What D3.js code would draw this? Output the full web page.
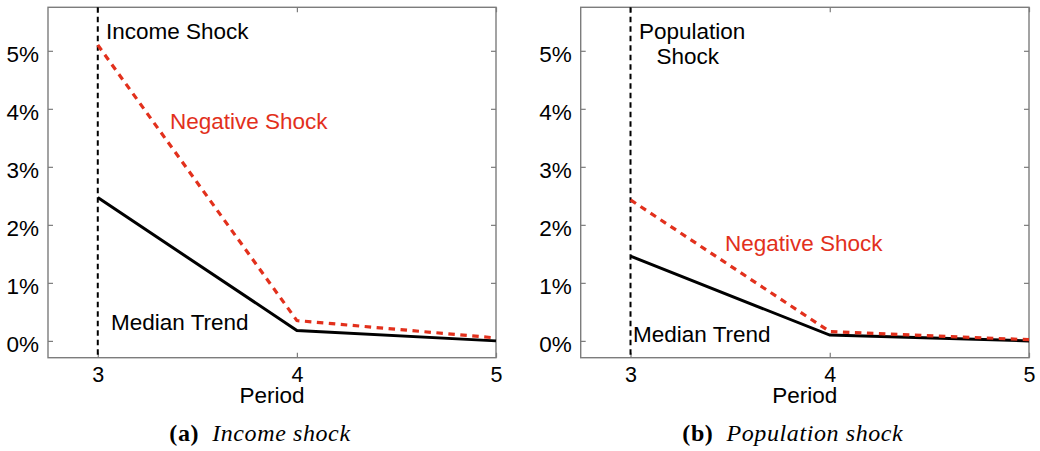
<!DOCTYPE html>
<html>
<head>
<meta charset="utf-8">
<script src="https://cdn.jsdelivr.net/npm/d3@7"></script>
<style>
  html, body { margin: 0; padding: 0; background: #fff; }
  svg { display: block; }
  text { font-family: "Liberation Sans", Arial, Helvetica, sans-serif; }
</style>
</head>
<body>
<svg id="chart" width="1040" height="451"></svg>
<script>
// Periods and growth-rate paths (percent) after each shock
const periods = [3, 4, 5];
const incomeNegative = [5.10, 0.35, 0.05];
const incomeMedian = [2.47, 0.18, 0.00];
const populationNegative = [2.43, 0.16, 0.02];
const populationMedian = [1.46, 0.10, 0.00];
const xTicks = [3, 4, 5];
const yTicks = [0, 1, 2, 3, 4, 5];
const shockPeriod = 3;

const RED = "#e2301c";
const FRAME = "#7c7c7c";
const FONT = 22.5;
const TICK_FONT = 21.5;

const svg = d3.select("#chart");

const panels = [
  {
    left: 48, right: 496,
    negative: incomeNegative, median: incomeMedian,
    shockLines: ["Income Shock"], shockPos: [[106, 38.5]],
    negPos: [170, 128.5], medPos: [111, 329.5],
    capTag: "(a)", capText: "Income shock"
  },
  {
    left: 580.7, right: 1029,
    negative: populationNegative, median: populationMedian,
    shockLines: ["Population", "Shock"], shockPos: [[639, 38.5], [656.5, 63.5]],
    negPos: [725, 251], medPos: [633, 342],
    capTag: "(b)", capText: "Population shock"
  }
];

const plotTop = 7.3, plotBottom = 357.7, tickLen = 5;

panels.forEach(p => {
  const x = d3.scaleLinear().domain([2.75, 5]).range([p.left, p.right]);
  const y = d3.scaleLinear().domain([-0.29, 5.75]).range([plotBottom, plotTop]);
  const g = svg.append("g");

  // frame
  g.append("rect")
    .attr("x", p.left).attr("y", plotTop)
    .attr("width", p.right - p.left).attr("height", plotBottom - plotTop)
    .attr("fill", "none").attr("stroke", FRAME).attr("stroke-width", 1.4);

  // inward ticks on all four sides
  const bottomAxis = d3.axisBottom(x).tickValues(xTicks).tickSizeInner(-tickLen).tickSizeOuter(0).tickFormat(d3.format("d")).tickPadding(9.5);
  const topAxis = d3.axisTop(x).tickValues(xTicks).tickSizeInner(-tickLen).tickSizeOuter(0).tickFormat("");
  const leftAxis = d3.axisLeft(y).tickValues(yTicks).tickSizeInner(-tickLen).tickSizeOuter(0).tickFormat(d => d + "%").tickPadding(9);
  const rightAxis = d3.axisRight(y).tickValues(yTicks).tickSizeInner(-tickLen).tickSizeOuter(0).tickFormat("");

  const ax = [
    g.append("g").attr("transform", `translate(0,${plotBottom})`).call(bottomAxis),
    g.append("g").attr("transform", `translate(0,${plotTop})`).call(topAxis),
    g.append("g").attr("transform", `translate(${p.left},0)`).call(leftAxis),
    g.append("g").attr("transform", `translate(${p.right},0)`).call(rightAxis)
  ];
  ax.forEach(a => {
    a.select(".domain").remove();
    a.selectAll(".tick line").attr("stroke", FRAME).attr("stroke-width", 1.2);
    a.selectAll(".tick text").attr("fill", "#000").attr("font-size", TICK_FONT)
      .attr("font-family", "Liberation Sans, Arial, sans-serif");
  });
  ax[2].selectAll(".tick text").attr("font-size", FONT).attr("dy", "0.47em");
  ax[0].selectAll(".tick text").attr("dy", "0.71em");

  // shock marker
  g.append("line")
    .attr("x1", x(shockPeriod)).attr("x2", x(shockPeriod))
    .attr("y1", plotTop).attr("y2", plotBottom)
    .attr("stroke", "#000").attr("stroke-width", 2).attr("stroke-dasharray", "5.5,4");

  const line = d3.line().x((d, i) => x(periods[i])).y(d => y(d));

  g.append("path").datum(p.median)
    .attr("d", line).attr("fill", "none")
    .attr("stroke", "#000").attr("stroke-width", 3);

  g.append("path").datum(p.negative)
    .attr("d", line).attr("fill", "none")
    .attr("stroke", RED).attr("stroke-width", 3.2).attr("stroke-dasharray", "6.5,5.5");

  // annotations
  p.shockLines.forEach((t, i) => {
    g.append("text").attr("x", p.shockPos[i][0]).attr("y", p.shockPos[i][1])
      .attr("font-size", FONT).attr("fill", "#000").text(t);
  });
  g.append("text").attr("x", p.negPos[0]).attr("y", p.negPos[1])
    .attr("font-size", FONT).attr("fill", RED).text("Negative Shock");
  g.append("text").attr("x", p.medPos[0]).attr("y", p.medPos[1])
    .attr("font-size", FONT).attr("fill", "#000").text("Median Trend");

  // axis title
  g.append("text").attr("x", (p.left + p.right) / 2).attr("y", 403)
    .attr("text-anchor", "middle").attr("font-size", FONT).attr("fill", "#000").text("Period");

  // caption
  const cap = g.append("text").attr("x", (p.left + p.right) / 2 - 12).attr("y", 441)
    .attr("text-anchor", "middle").attr("font-size", 24).attr("letter-spacing", 0.6)
    .style("font-family", "'Liberation Serif', 'DejaVu Serif', serif");
  cap.append("tspan").attr("font-weight", "bold").text(p.capTag);
  cap.append("tspan").attr("dx", 13).attr("font-style", "italic").text(p.capText);
});
</script>
</body>
</html>
